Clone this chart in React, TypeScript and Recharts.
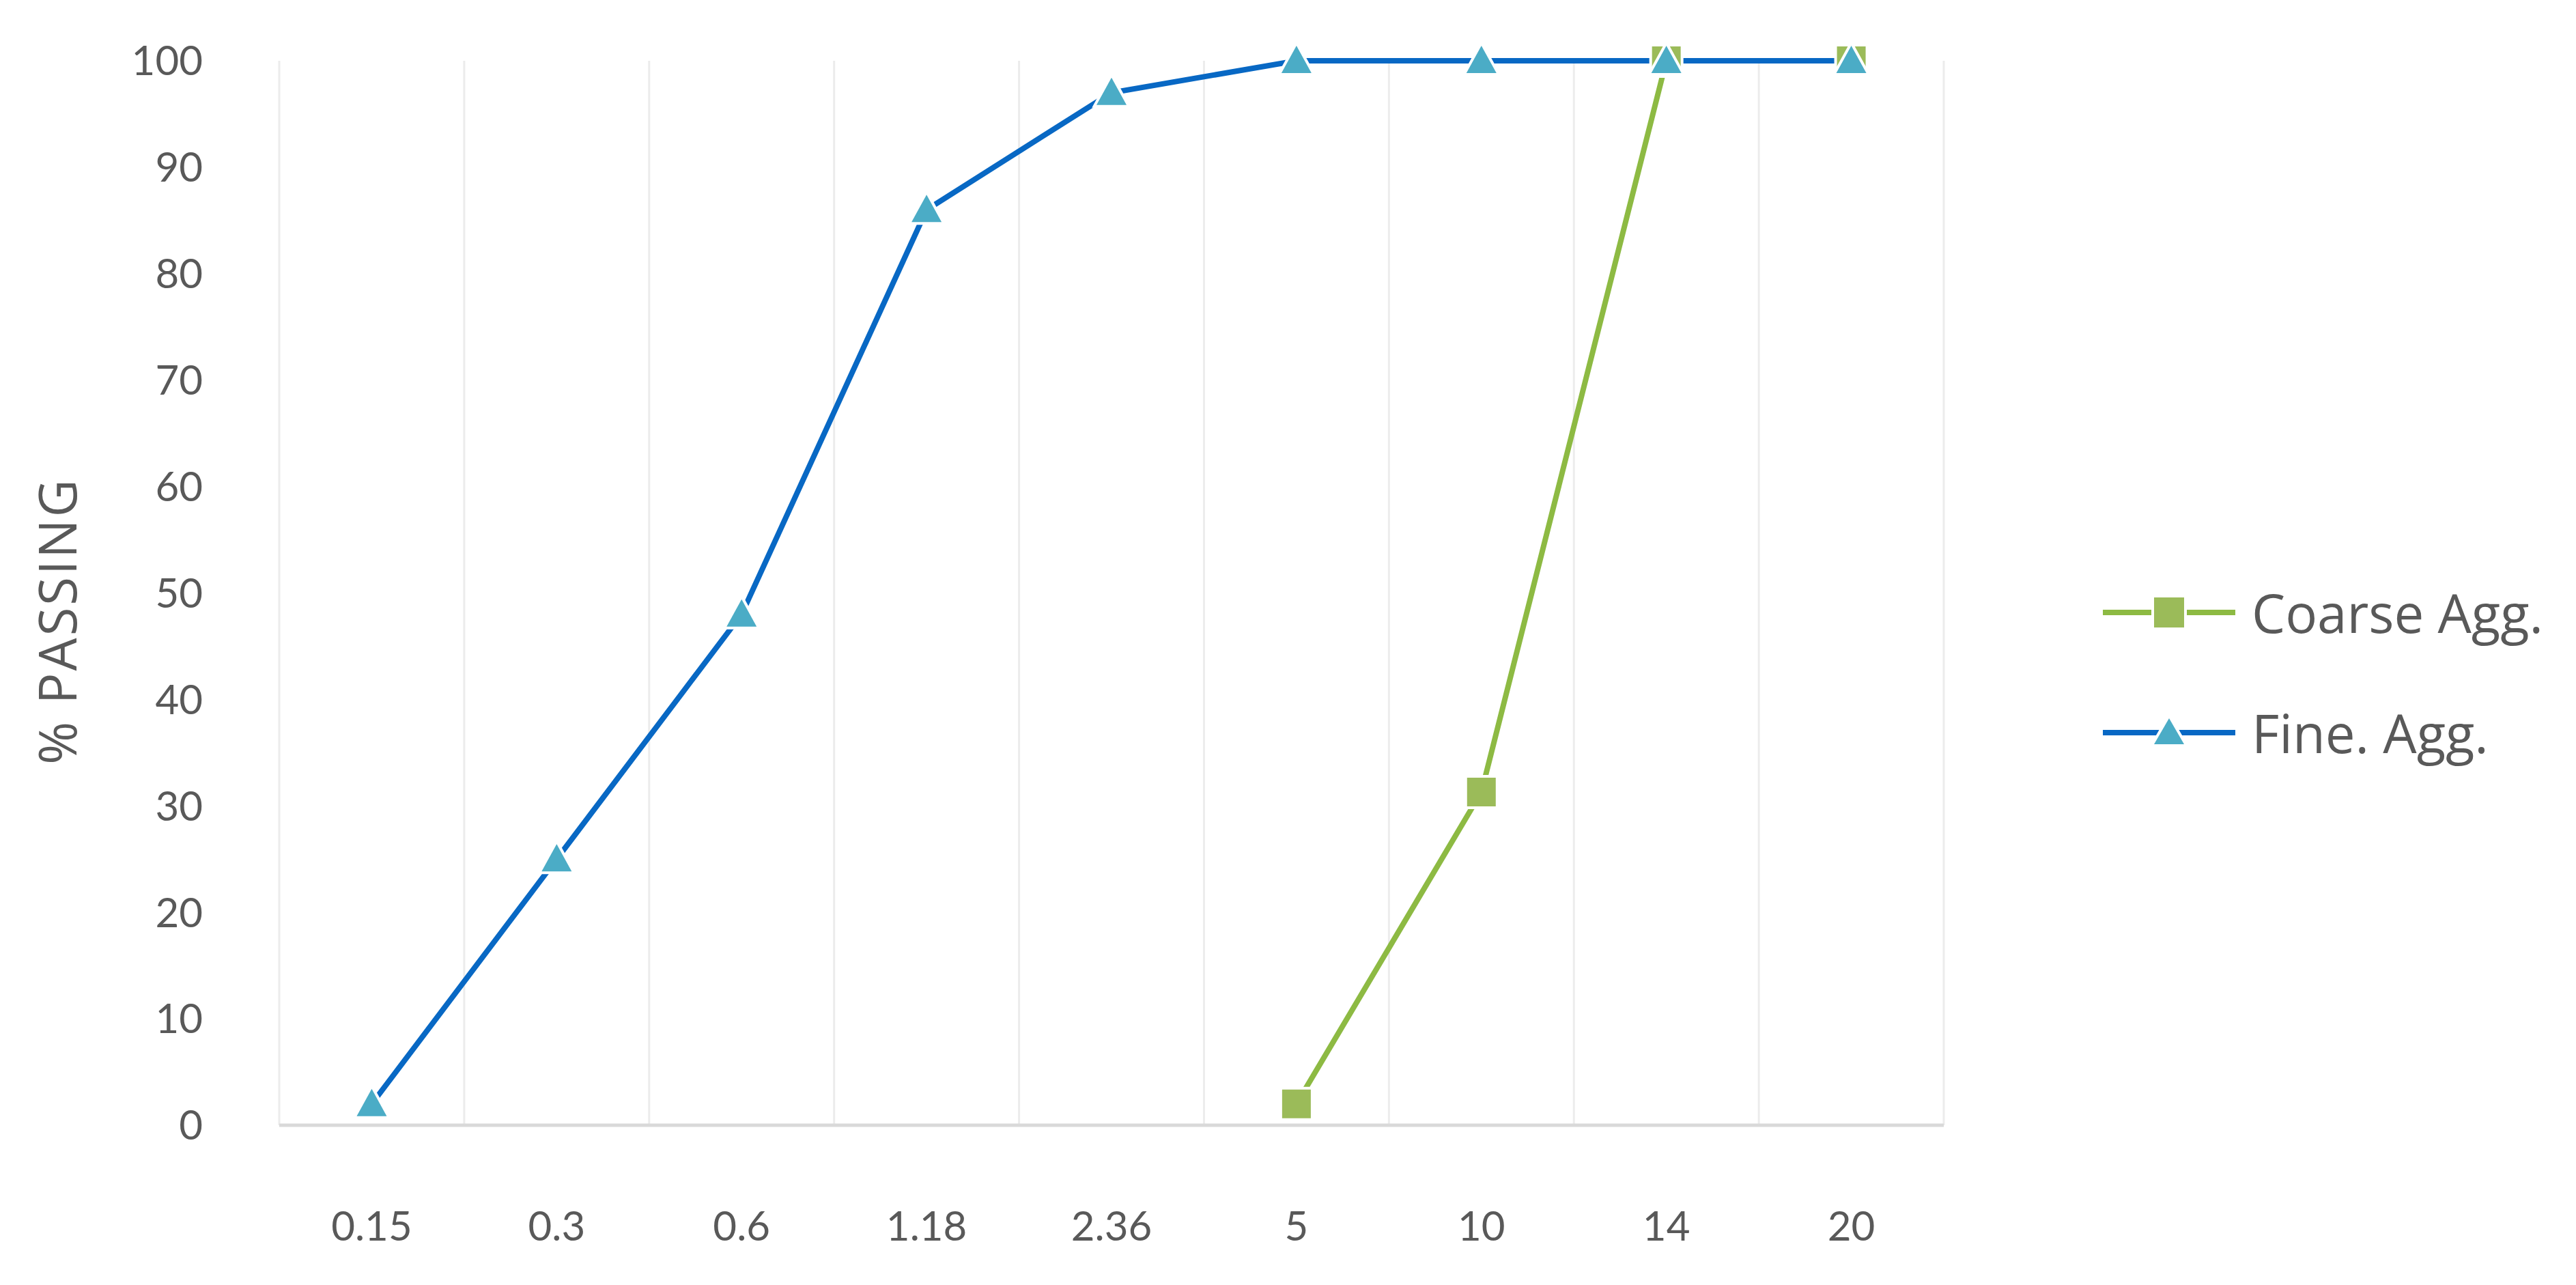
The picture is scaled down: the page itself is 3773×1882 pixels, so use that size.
import { CartesianGrid, Legend, Line, LineChart, XAxis, YAxis } from "recharts";

// sieve sizes (mm) and % passing
const sieveSizes = ["0.15", "0.3", "0.6", "1.18", "2.36", "5", "10", "14", "20"];
const coarseAgg = [null, null, null, null, null, 2, 31.3, 100, 100];
const fineAgg = [2, 25, 48, 86, 97, 100, 100, 100, 100];
const yTicks = [0, 10, 20, 30, 40, 50, 60, 70, 80, 90, 100];

const data = sieveSizes.map((size, i) => ({
  idx: i,
  size,
  coarse: coarseAgg[i],
  fine: fineAgg[i],
}));

const xTicks = sieveSizes.map((_, i) => i);
// category boundaries for the vertical grid
const bounds = [...sieveSizes.map((_, i) => i - 0.5), sieveSizes.length - 0.5];

const GREEN_LINE = "#8DBA43";
const GREEN_FILL = "#9BBB59";
const BLUE_LINE = "#0868C4";
const BLUE_FILL = "#4BACC6";
const TEXT = "#595959";

function squarePath(cx: number, cy: number, s: number) {
  return `M${cx - s / 2},${cy - s / 2}h${s}v${s}h${-s}Z`;
}

function trianglePath(cx: number, cy: number, w: number, h: number) {
  return `M${cx},${cy - h * 0.55}L${cx + w / 2},${cy + h * 0.45}L${cx - w / 2},${cy + h * 0.45}Z`;
}

const SquareDot = (props: any) => {
  const { cx, cy, index, value } = props;
  if (cx == null || cy == null || value == null) return <g key={`s-${index}`} />;
  return (
    <path key={`s-${index}`} d={squarePath(cx, cy, 42)} fill={GREEN_FILL} stroke="#fff" strokeWidth={8} paintOrder="stroke" />
  );
};

const TriangleDot = (props: any) => {
  const { cx, cy, index } = props;
  if (cx == null || cy == null) return <g key={`t-${index}`} />;
  return (
    <path key={`t-${index}`} d={trianglePath(cx, cy, 44, 40)} fill={BLUE_FILL} stroke="#fff" strokeWidth={8} paintOrder="stroke" />
  );
};

const legendItems = [
  { name: "Coarse Agg.", line: GREEN_LINE, fill: GREEN_FILL, shape: "square" },
  { name: "Fine. Agg.", line: BLUE_LINE, fill: BLUE_FILL, shape: "triangle" },
];

const renderLegend = () => (
  <div style={{ fontFamily: '"Open Sans", sans-serif', fontSize: 78, color: TEXT }}>
    {legendItems.map((s) => (
      <div key={s.name} style={{ display: "flex", alignItems: "center", height: 176 }}>
        <svg width={198} height={60}>
          <line x1={2} y1={30} x2={196} y2={30} stroke={s.line} strokeWidth={8} />
          {s.shape === "square" ? (
            <path d={squarePath(99, 30, 44)} fill={s.fill} stroke="#fff" strokeWidth={8} paintOrder="stroke" />
          ) : (
            <path d={trianglePath(99, 30, 44, 38)} fill={s.fill} stroke="#fff" strokeWidth={8} paintOrder="stroke" />
          )}
        </svg>
        <span style={{ marginLeft: 22 }}>{s.name}</span>
      </div>
    ))}
  </div>
);

const AxisTitle = (props: any) => {
  const { viewBox } = props;
  const x = viewBox.x + 42;
  const y = viewBox.y + viewBox.height / 2 + 41;
  return (
    <text
      x={x}
      y={y}
      transform={`rotate(-90, ${x}, ${y})`}
      textAnchor="middle"
      dominantBaseline="central"
      fill={TEXT}
      fontFamily='"Open Sans", sans-serif'
      fontSize={76}
      letterSpacing={3}
    >
      % PASSING
    </text>
  );
};

export default function App() {
  return (
    <div style={{ position: "absolute", left: 0, top: 0, background: "#fff" }}>
      <LineChart
        width={3773}
        height={1882}
        data={data}
        margin={{ top: 89, right: 926, bottom: 0, left: 40 }}
      >
        <CartesianGrid
          stroke="#ECECEC"
          strokeWidth={3}
          horizontalValues={yTicks}
          verticalCoordinatesGenerator={({ xAxis, offset }: any) =>
            xAxis && typeof xAxis.scale === "function"
              ? bounds.map((b) => xAxis.scale(b))
              : bounds.map((_, i) => offset.left + (offset.width * i) / sieveSizes.length)
          }
        />
        <XAxis
          type="number"
          dataKey="idx"
          domain={[-0.5, sieveSizes.length - 0.5]}
          ticks={xTicks}
          tickFormatter={(v) => sieveSizes[v]}
          height={234}
          tickLine={false}
          axisLine={{ stroke: "#D9D9D9", strokeWidth: 5 }}
          tickMargin={120}
          tick={{ fill: TEXT, fontSize: 60, fontFamily: "Lato, sans-serif" }}
          interval={0}
        />
        <YAxis
          yAxisId="left"
          domain={[0, 100]}
          ticks={yTicks}
          width={369}
          tickLine={false}
          axisLine={false}
          tickMargin={106}
          tick={{ fill: TEXT, fontSize: 60, fontFamily: "Lato, sans-serif" }}
          label={<AxisTitle />}
        />
        <YAxis
          yAxisId="right"
          orientation="right"
          domain={[0, 100]}
          width={0}
          tick={false}
          tickLine={false}
          axisLine={{ stroke: "#D9D9D9", strokeWidth: 4 }}
        />
        <Legend
          layout="horizontal"
          verticalAlign="middle"
          align="center"
          content={renderLegend}
          wrapperStyle={{ left: 3078, top: 809, width: 690 }}
        />
        <Line
          yAxisId="left"
          type="linear"
          dataKey="coarse"
          name="Coarse Agg."
          stroke={GREEN_LINE}
          strokeWidth={8}
          dot={SquareDot}
          activeDot={false}
          connectNulls={false}
          isAnimationActive={false}
        />
        <Line
          yAxisId="left"
          type="linear"
          dataKey="fine"
          name="Fine. Agg."
          stroke={BLUE_LINE}
          strokeWidth={8}
          dot={TriangleDot}
          activeDot={false}
          isAnimationActive={false}
        />
      </LineChart>
    </div>
  );
}
